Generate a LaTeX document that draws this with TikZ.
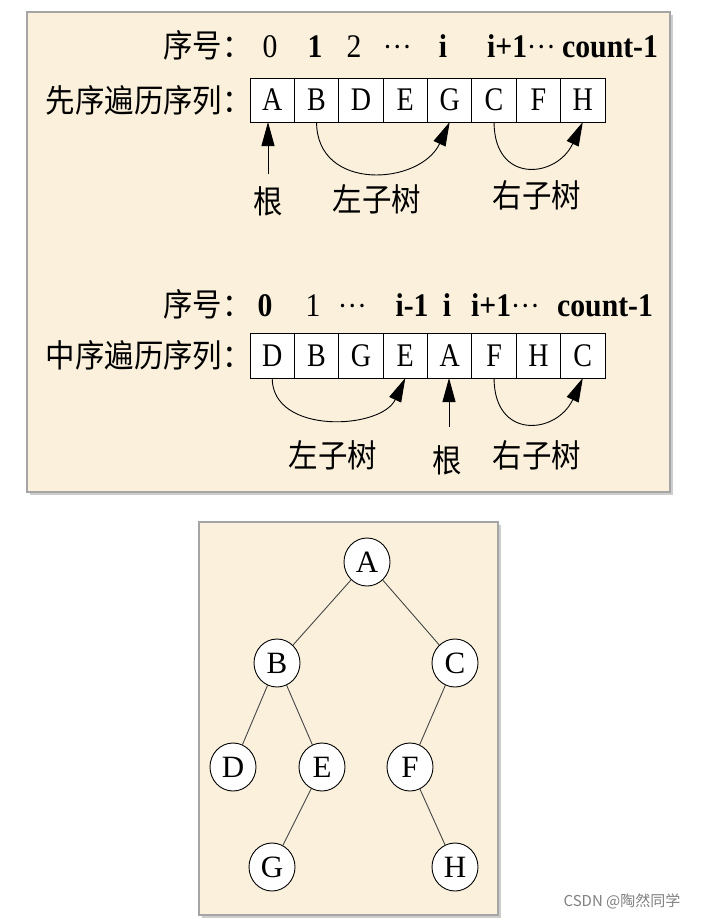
\documentclass[tikz,border=0pt]{standalone}
\usepackage{fontspec}
\setmainfont{Liberation Serif}
\newfontfamily\cjk{Noto Sans CJK SC}
\usetikzlibrary{arrows.meta,shapes.geometric}

\definecolor{panelbg}{RGB}{250,240,219}
\definecolor{panelborder}{RGB}{165,165,165}
\definecolor{shadowc}{RGB}{205,205,205}
\definecolor{edgec}{RGB}{70,70,70}

\newcommand\zhtxt[1]{{\cjk\fontsize{32}{32}\selectfont\scalebox{0.92}[1]{#1}}}
\newcommand\numtxt[1]{{\fontsize{33}{33}\selectfont\scalebox{0.9}[1]{#1}}}
\newcommand\dotstxt{{\cjk\fontsize{26}{26}\selectfont\raisebox{9pt}{…}}}

\begin{document}
\begin{tikzpicture}[x=1pt,y=1pt,
  panel/.style={fill=panelbg, draw=panelborder, line width=1.5pt},
  panelshadow/.style={fill=shadowc, draw=none},
  cell/.style={draw=black, fill=white, line width=0.9pt, minimum width=44.4pt, minimum height=44pt, inner sep=0pt, outer sep=0pt, font=\fontsize{33}{33}\selectfont},
  tnode/.style={ellipse, draw=black, fill=white, line width=0.9pt, minimum width=46pt, minimum height=48pt, inner sep=0pt, font=\fontsize{31}{31}\selectfont},
  tedge/.style={draw=edgec, line width=0.9pt},
  arr/.style={draw=black, line width=0.9pt, -{Triangle[length=24pt,width=13pt]}},
  lab/.style={inner sep=0pt, anchor=base},
]
\useasboundingbox (0,0) rectangle (706,-919);
\fill[white] (0,0) rectangle (706,-919);

% top panel
\fill[panelshadow] (30,-15) rectangle (673,-495);
\path[panel] (27,-12) rectangle (670,-492);

% bottom panel
\fill[panelshadow] (202,-525) rectangle (501,-918);
\path[panel] (199,-522) rectangle (498,-915);

% ---------- preorder ----------
\node[lab, anchor=base east] (h1) at (252,-57) {\zhtxt{序号：}};
\node[lab] (n10) at (270,-57) {\numtxt{0}};
\node[lab] (n11) at (315,-57) {\numtxt{\textbf{1}}};
\node[lab] (n12) at (354,-57) {\numtxt{2}};
\node[lab] (n13) at (397,-57) {\dotstxt};
\node[lab] (n14) at (443,-57) {\numtxt{\textbf{i}}};
\node[lab, anchor=base west] (n15) at (487,-57) {\numtxt{\textbf{i+1}}\hspace{0pt}\dotstxt};
\node[lab, anchor=base west] (n16) at (562,-57) {\numtxt{\textbf{count-1}}};

\node[inner sep=0pt, anchor=east] (pl) at (252,-100) {\zhtxt{先序遍历序列：}};
\foreach \t [count=\i] in {A,B,D,E,G,C,F,H} {
  \node[cell] (p\i) at ({250+44.375*(\i-0.5)},-100) {\scalebox{0.85}[1]{\t}};
}
\coordinate (r1) at (268,-174);
\draw[arr] (r1) -- (r1 |- p1.south);
\draw[arr] (p2.south) to[out=-90,in=-115,looseness=1.35] (p5.south);
\draw[arr] (p6.south) to[out=-90,in=-115,looseness=1.8] (p8.south);
\node[inner sep=0pt] (l1) at (268,-201) {\zhtxt{根}};
\node[inner sep=0pt] (l2) at (377,-199) {\zhtxt{左子树}};
\node[inner sep=0pt] (l3) at (537,-195) {\zhtxt{右子树}};

% ---------- inorder ----------
\node[lab, anchor=base east] (h2) at (252,-316) {\zhtxt{序号：}};
\node[lab] (m10) at (265,-316) {\numtxt{\textbf{0}}};
\node[lab] (m11) at (313,-316) {\numtxt{1}};
\node[lab] (m12) at (352,-316) {\dotstxt};
\node[lab] (m13) at (412,-316) {\numtxt{\textbf{i-1}}};
\node[lab] (m14) at (447,-316) {\numtxt{\textbf{i}}};
\node[lab, anchor=base west] (m15) at (471,-316) {\numtxt{\textbf{i+1}}\hspace{0pt}\dotstxt};
\node[lab, anchor=base west] (m16) at (557,-316) {\numtxt{\textbf{count-1}}};

\node[inner sep=0pt, anchor=east] (ml) at (252,-355.5) {\zhtxt{中序遍历序列：}};
\foreach \t [count=\i] in {D,B,G,E,A,F,H,C} {
  \node[cell, minimum height=45pt] (q\i) at ({250+44.375*(\i-0.5)},-355.5) {\scalebox{0.85}[1]{\t}};
}
\draw[arr] (q1.south) to[out=-90,in=-115,looseness=1.1] (q4.south);
\coordinate (r2) at (449,-427);
\draw[arr] (r2) -- (r2 |- q5.south);
\draw[arr] (q6.south) to[out=-90,in=-115,looseness=1.8] (q8.south);
\node[inner sep=0pt] (k1) at (333,-455) {\zhtxt{左子树}};
\node[inner sep=0pt] (k2) at (447,-460) {\zhtxt{根}};
\node[inner sep=0pt] (k3) at (537,-455) {\zhtxt{右子树}};

% ---------- tree ----------
\node[tnode] (A) at (367,-562) {A};
\node[tnode] (B) at (277,-663) {B};
\node[tnode] (C) at (455,-663) {C};
\node[tnode] (D) at (233,-767) {D};
\node[tnode] (E) at (322,-767) {E};
\node[tnode] (F) at (410,-767) {F};
\node[tnode] (G) at (272,-867) {G};
\node[tnode] (H) at (455,-867) {H};
\draw[tedge] (A) -- (B);
\draw[tedge] (A) -- (C);
\draw[tedge] (B) -- (D);
\draw[tedge] (B) -- (E);
\draw[tedge] (E) -- (G);
\draw[tedge] (C) -- (F);
\draw[tedge] (F) -- (H);

\node[inner sep=0pt, text=gray, font=\cjk\fontsize{15}{15}\selectfont] (wm) at (622,-901) {CSDN @陶然同学};
\end{tikzpicture}
\end{document}
